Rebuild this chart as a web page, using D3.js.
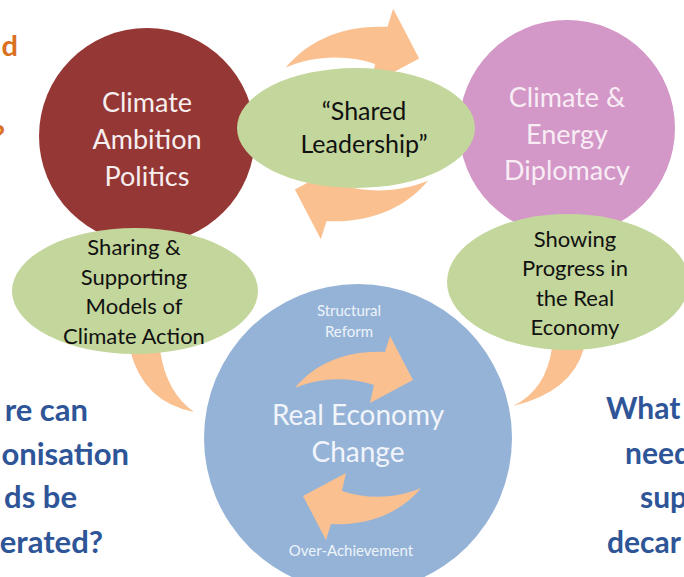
<!DOCTYPE html>
<html>
<head>
<meta charset="utf-8">
<script src="https://cdn.jsdelivr.net/npm/d3@7"></script>
<style>
  body { margin: 0; background: #fff; }
  svg { display: block; font-family: Lato, "Open Sans", sans-serif; }
</style>
</head>
<body>
<div id="diagram"></div>
<script>
// labels of the diagram
var circleLabels = [
  ["Climate", "Ambition", "Politics"],
  ["Climate &", "Energy", "Diplomacy"],
  ["Real Economy", "Change"]
];
var bubbleLabels = [
  ["\u201CShared", "Leadership\u201D"],
  ["Sharing &", "Supporting", "Models of", "Climate Action"],
  ["Showing", "Progress in", "the Real", "Economy"]
];
var cycleLabels = ["Structural", "Reform", "Over-Achievement"];
var leftQuestion = ["re can", "onisation", "ds be", "erated?"];
var rightQuestion = ["What", "need", "sup", "decar"];
var topLeftLabels = ["d", "?"];

var width = 684, height = 577;

// layout (kept apart from the labels)
var circles = [
  {cx: 147, cy: 136, r: 108, fill: "#953735", text: "#f7efef", size: 27, lead: 37, y0: 112},
  {cx: 567, cy: 128, r: 108, fill: "#d398c7", text: "#f8ecf5", size: 27, lead: 36.5, y0: 107},
  {cx: 358, cy: 438, r: 154, fill: "#95b3d7", text: "#f1f5fb", size: 28, lead: 37, y0: 425}
];
var bubbles = [
  {cx: 356, cy: 128, rx: 119, ry: 60, tx: 364, y0: 120, lead: 33, size: 25},
  {cx: 135, cy: 291, rx: 123, ry: 63, tx: 134, y0: 255, lead: 29.5, size: 22},
  {cx: 568, cy: 282, rx: 121, ry: 68, tx: 575, y0: 247, lead: 29.3, size: 22}
];

var svg = d3.select("#diagram")
  .append("svg")
    .attr("width", width)
    .attr("height", height);

var orange = "#fac090", green = "#c3d69b";

// curved arrow, pointing right, centred on the cycle middle
var arrowPath = "M-63,-50 C-45,-72 -15,-88 27,-86 L32,-102 L55,-58 L12,-35 L16,-53 C-10,-62 -40,-60 -63,-50 Z";

function cycle(g, cx, cy, s) {
  [0, 180].forEach(function(rot) {
    g.append("path")
      .attr("d", arrowPath)
      .attr("fill", orange)
      .attr("transform", "translate(" + cx + "," + cy + ") rotate(" + rot + ") scale(" + s + ")");
  });
}

// arrows behind the "Shared Leadership" bubble
cycle(svg.append("g"), 357, 124, 1.13);

// main circles
svg.selectAll("circle.main")
  .data(circles)
  .enter().append("circle")
    .attr("class", "main")
    .attr("cx", function(d) { return d.cx; })
    .attr("cy", function(d) { return d.cy; })
    .attr("r", function(d) { return d.r; })
    .attr("fill", function(d) { return d.fill; });

// speech bubble tails
svg.append("path")
  .attr("d", "M130,350 Q143,402 194,412 Q166,392 160,350 Z")
  .attr("fill", orange);
svg.append("path")
  .attr("d", "M552,348 Q546,390 513,406 Q572,392 584,348 Z")
  .attr("fill", orange);

// cycle inside the blue circle
cycle(svg.append("g"), 358, 438, 1);

// green bubbles
svg.selectAll("ellipse")
  .data(bubbles)
  .enter().append("ellipse")
    .attr("cx", function(d) { return d.cx; })
    .attr("cy", function(d) { return d.cy; })
    .attr("rx", function(d) { return d.rx; })
    .attr("ry", function(d) { return d.ry; })
    .attr("fill", green);

// circle labels
circles.forEach(function(c, i) {
  svg.append("g").selectAll("text")
    .data(circleLabels[i])
    .enter().append("text")
      .attr("x", c.cx)
      .attr("y", function(d, j) { return c.y0 + j * c.lead; })
      .attr("text-anchor", "middle")
      .style("font-size", c.size + "px")
      .attr("fill", c.text)
      .text(function(d) { return d; });
});

// bubble labels
bubbles.forEach(function(b, i) {
  svg.append("g").selectAll("text")
    .data(bubbleLabels[i])
    .enter().append("text")
      .attr("x", b.tx)
      .attr("y", function(d, j) { return b.y0 + j * b.lead; })
      .attr("text-anchor", "middle")
      .style("font-size", b.size + "px")
      .attr("fill", "#111")
      .text(function(d) { return d; });
});

// small labels around the inner cycle
svg.append("g").selectAll("text")
  .data(cycleLabels)
  .enter().append("text")
    .attr("x", function(d, i) { return i < 2 ? 349 : 351; })
    .attr("y", function(d, i) { return [316, 337, 556][i]; })
    .attr("text-anchor", "middle")
    .style("font-size", "15px")
    .attr("fill", "#eef3fa")
    .text(function(d) { return d; });

// cut-off question on the left
svg.append("g").selectAll("text")
  .data(leftQuestion)
  .enter().append("text")
    .attr("x", function(d, i) { return [88, 129, 77, 103][i]; })
    .attr("y", function(d, i) { return [421, 465, 508, 553][i]; })
    .attr("text-anchor", "end")
    .style("font-size", "31px")
    .style("font-weight", "bold")
    .attr("fill", "#2e5597")
    .text(function(d) { return d; });

// cut-off question on the right
svg.append("g").selectAll("text")
  .data(rightQuestion)
  .enter().append("text")
    .attr("x", function(d, i) { return [606, 625, 640, 607][i]; })
    .attr("y", function(d, i) { return 419 + i * 44.5; })
    .attr("text-anchor", "start")
    .style("font-size", "30px")
    .style("font-weight", "bold")
    .attr("fill", "#2e5597")
    .text(function(d) { return d; });

// cut-off orange heading at top-left
svg.append("g").selectAll("text")
  .data(topLeftLabels)
  .enter().append("text")
    .attr("x", function(d, i) { return i ? 5 : 18; })
    .attr("y", function(d, i) { return i ? 146 : 56; })
    .attr("text-anchor", "end")
    .style("font-size", "29px")
    .style("font-weight", "bold")
    .attr("fill", "#d9711f")
    .text(function(d) { return d; });
</script>
</body>
</html>
